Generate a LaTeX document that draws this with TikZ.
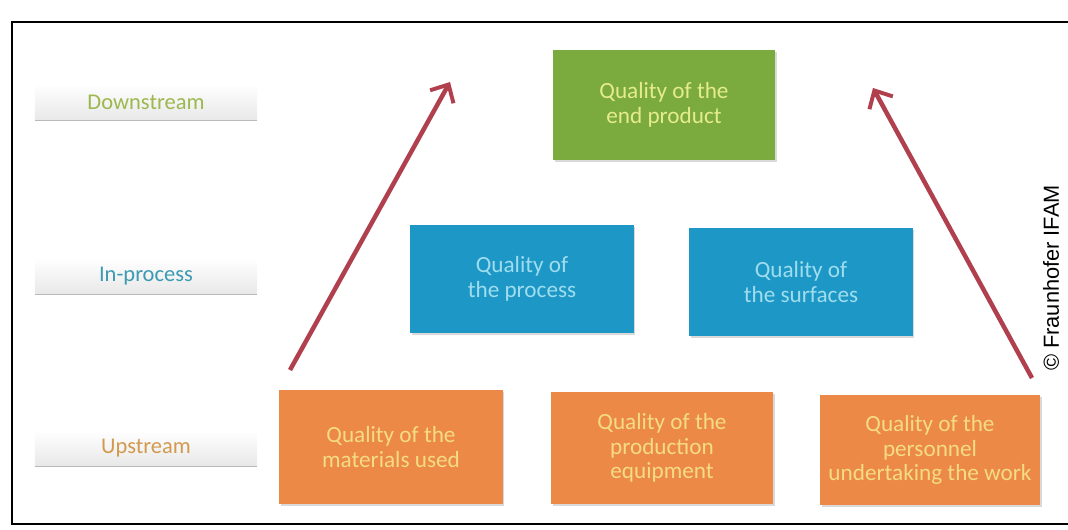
\documentclass[tikz,border=0pt]{standalone}
\usepackage{fontspec}
\setmainfont{Carlito}
\newfontfamily\copyfont{Liberation Sans}
\usepackage{tikz}
\usetikzlibrary{arrows.meta,positioning,calc,shadows}

\definecolor{boxgreen}{HTML}{7BAA3E}
\definecolor{boxblue}{HTML}{1D98C6}
\definecolor{boxorange}{HTML}{EC8946}
\definecolor{txtgreen}{HTML}{E6EC8C}
\definecolor{txtblue}{HTML}{9FDDEE}
\definecolor{txtorange}{HTML}{F4DC82}
\definecolor{lblgreen}{HTML}{9CB84E}
\definecolor{lblblue}{HTML}{3C9AB2}
\definecolor{lblorange}{HTML}{D39A4E}
\definecolor{arrowred}{HTML}{B0404E}

\tikzset{
  qualitybox/.style={rectangle,align=center,font=\fontsize{16.5}{17.5}\selectfont,
    drop shadow={shadow xshift=1.2pt,shadow yshift=-1.2pt,opacity=0.3}},
  stagebox/.style={rectangle,minimum width=5.55cm,minimum height=0.9cm,
    top color=white,bottom color=gray!18,font=\fontsize{16}{18}\selectfont},
  riseline/.style={arrowred,line width=3.2pt,-{Straight Barb[length=10pt,width=19pt,line width=2.8pt]}}
}

\begin{document}
\begin{tikzpicture}[x=0.025cm,y=-0.025cm]
\useasboundingbox (0,0) rectangle (1068,529);

% frame
\draw[line width=1.2pt] (1068,22) -- (12,22) -- (12,524) -- (1068,524);

% stage labels
\node[stagebox,text=lblgreen] (down) at (146,102) {Downstream};
\node[stagebox,text=lblblue] (inproc) at (146,276) {In-process};
\node[stagebox,text=lblorange] (up) at (146,448) {Upstream};
\foreach \s in {down,inproc,up}
  \draw[gray!55,line width=1pt] (\s.south west) -- (\s.south east);

% downstream
\node[qualitybox,fill=boxgreen,text=txtgreen,minimum width=5.55cm,minimum height=2.75cm]
  (endprod) at (664,105) {Quality of the\\end product};

% in-process
\node[qualitybox,fill=boxblue,text=txtblue,minimum width=5.575cm,minimum height=2.7cm]
  (process) at (522,279) {Quality of\\the process};
\node[qualitybox,fill=boxblue,text=txtblue,minimum width=5.575cm,minimum height=2.7cm]
  (surfaces) at (801,282) {Quality of\\the surfaces};

% upstream
\node[qualitybox,fill=boxorange,text=txtorange,minimum width=5.575cm,minimum height=2.85cm]
  (materials) at (391,447) {Quality of the\\materials used};
\node[qualitybox,fill=boxorange,text=txtorange,minimum width=5.55cm,minimum height=2.8cm]
  (equipment) at (662,448) {Quality of the\\production\\equipment};
\node[qualitybox,fill=boxorange,text=txtorange,minimum width=5.5cm,minimum height=2.75cm,inner xsep=1pt]
  (personnel) at (930,450) {Quality of the\\personnel\\undertaking the work};

% arrows
\coordinate (lefttail) at (290,370);
\coordinate (lefthead) at (450,82);
\coordinate (righttail) at (1032,378);
\coordinate (righthead) at (873,88);
\draw[riseline] (lefttail) -- (lefthead);
\draw[riseline] (righttail) -- (righthead);

% copyright
\node[rotate=90,font=\copyfont\fontsize{15.5}{17}\selectfont] (credit) at (1051,278) {\textcopyright{} Fraunhofer IFAM};
\end{tikzpicture}
\end{document}
